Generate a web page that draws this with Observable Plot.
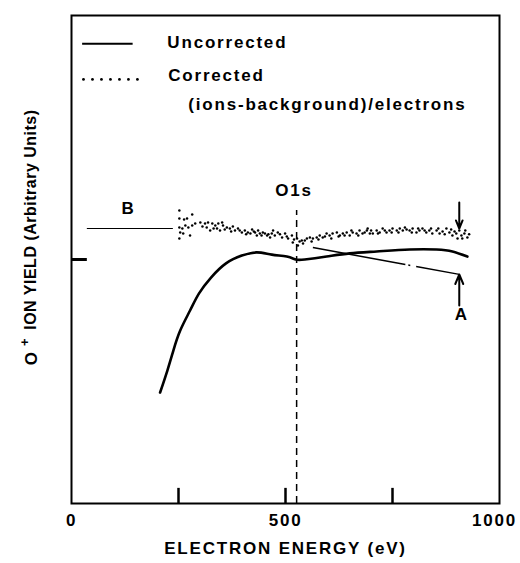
<!DOCTYPE html>
<html>
<head>
<meta charset="utf-8">
<script src="https://cdn.jsdelivr.net/npm/d3@7"></script>
<script src="https://cdn.jsdelivr.net/npm/@observablehq/plot@0.6"></script>
<style>
  html, body { margin: 0; padding: 0; background: #fff; }
  #chart svg { display: block; background: #fff; }
  #chart svg text { font-family: "Liberation Sans", Arial, Helvetica, sans-serif; font-weight: bold; letter-spacing: 1.8px; fill: #000; }
  #chart svg .ylab text, #chart svg text.ylab { letter-spacing: 0.5px; }
</style>
</head>
<body>
<div id="chart"></div>
<script>
// ---- Data (electron energy in eV, ion yield in arbitrary units) ----
const uncorrE = [207, 224, 238, 254, 277, 298, 326, 361, 398, 433, 468, 503, 524, 545, 596, 650, 713, 790, 853, 890, 925];
const uncorrY = [0.455, 0.545, 0.627, 0.709, 0.791, 0.861, 0.926, 0.984, 1.016, 1.029, 1.020, 1.012, 1.000, 1.000, 1.012, 1.025, 1.033, 1.041, 1.041, 1.033, 1.012];

const corrE = [252, 252, 263, 270, 282, 252, 259, 266, 273, 282, 289, 301, 254, 261, 277, 252,
  312, 319, 329, 336, 324, 343, 352, 354, 363, 347, 370, 377, 382, 389, 398, 405, 412, 422, 429, 436, 440, 447, 457, 464, 433, 340,
  306, 316, 332, 358, 373, 393, 408, 418, 426, 444, 452, 460,
  468, 475, 482, 492, 499, 506, 515, 517, 527, 529, 538, 541, 550, 557, 564, 573, 580, 587, 596, 603, 610, 620, 627, 634, 643, 650, 657, 666, 673, 680, 690, 697, 692,
  471, 487, 503, 520, 533, 545, 561, 577, 592, 607, 624, 638, 654, 670, 685, 700,
  704, 713, 720, 727, 736, 743, 750, 760, 767, 774, 783, 790, 797, 806, 813, 820, 829, 836, 843, 853, 860, 867, 876, 883, 890, 899, 906, 911, 918, 925, 913, 902,
  716, 732, 748, 764, 779, 795, 810, 825, 840, 857, 872, 887, 895, 920, 929];
const corrY = [1.201, 1.168, 1.164, 1.168, 1.184, 1.131, 1.127, 1.139, 1.131, 1.139, 1.148, 1.152, 1.111, 1.107, 1.098, 1.086,
  1.148, 1.152, 1.148, 1.139, 1.119, 1.148, 1.152, 1.139, 1.131, 1.119, 1.127, 1.135, 1.119, 1.127, 1.111, 1.119, 1.111, 1.123, 1.111, 1.119, 1.107, 1.111, 1.098, 1.090, 1.098, 1.127,
  1.135, 1.131, 1.127, 1.123, 1.115, 1.119, 1.103, 1.107, 1.115, 1.098, 1.107, 1.103,
  1.107, 1.098, 1.111, 1.090, 1.107, 1.086, 1.098, 1.070, 1.086, 1.057, 1.078, 1.066, 1.086, 1.090, 1.086, 1.090, 1.098, 1.090, 1.107, 1.098, 1.107, 1.111, 1.098, 1.107, 1.111, 1.098, 1.111, 1.107, 1.119, 1.107, 1.119, 1.107, 1.127,
  1.119, 1.103, 1.094, 1.082, 1.074, 1.078, 1.074, 1.082, 1.094, 1.086, 1.094, 1.098, 1.119, 1.098, 1.111, 1.119,
  1.107, 1.119, 1.111, 1.127, 1.111, 1.119, 1.127, 1.119, 1.127, 1.119, 1.123, 1.119, 1.127, 1.111, 1.119, 1.127, 1.111, 1.119, 1.107, 1.119, 1.107, 1.115, 1.127, 1.111, 1.098, 1.107, 1.119, 1.098, 1.107, 1.090, 1.086, 1.086,
  1.107, 1.119, 1.111, 1.111, 1.131, 1.111, 1.127, 1.119, 1.127, 1.127, 1.103, 1.123, 1.115, 1.119, 1.103];

// Background extrapolation line (A) and level B
const lineA = {x1: 564, y1: 1.049, x2: 906, y2: 0.939};
const lineB = {x1: 37, x2: 238, y: 1.127};
const o1sEnergy = 526;
const xTicks = [0, 500, 1000];
const innerTicks = [250, 500, 750];
const yTickValue = 1.0;

// Legend sample positions
const legendSolid = {x1: 26, x2: 144, y: 1.884};
const legendDotsE = [28, 49, 70, 91, 112, 133, 154];
const legendDotsY = 1.738;

const uncorr = uncorrE.map((e, i) => ({e, y: uncorrY[i]}));
const corr = corrE.map((e, i) => ({e, y: corrY[i]}));

const chart = Plot.plot({
  width: 520,
  height: 563,
  marginLeft: 71,
  marginRight: 21,
  marginTop: 15,
  marginBottom: 60,
  x: {domain: [0, 1000], axis: null},
  y: {domain: [0, 2], axis: null},
  marks: [
    Plot.frame({stroke: "black", strokeWidth: 2}),
    Plot.axisX(xTicks, {tickSize: 0, tickPadding: 10, fontSize: 17, label: null, tickFormat: d => String(d)}),
    Plot.ruleX(innerTicks, {y1: 0, y2: 0.062, stroke: "black", strokeWidth: 2.5}),
    Plot.ruleY([yTickValue], {x1: 0, x2: 37, stroke: "black", strokeWidth: 3}),
    // O1s dashed line
    Plot.ruleX([o1sEnergy], {y1: 0, y2: 1.201, stroke: "black", strokeWidth: 1.5, strokeDasharray: "7,5"}),
    // B level
    Plot.ruleY([lineB], {x1: "x1", x2: "x2", y: "y", stroke: "black", strokeWidth: 1.1}),
    // A extrapolation (dash-dot)
    Plot.link([lineA], {x1: "x1", y1: "y1", x2: "x2", y2: "y2", stroke: "black", strokeWidth: 1.5, strokeDasharray: "94,3,2,6,60"}),
    // Uncorrected curve
    Plot.line(uncorr, {x: "e", y: "y", curve: "natural", stroke: "black", strokeWidth: 2.6}),
    // Corrected dots
    Plot.dot(corr, {x: "e", y: "y", r: 1.25, fill: "black", stroke: "none"}),
    // Arrows
    Plot.arrow([{x1: 906, y1: 1.234, x2: 906, y2: 1.127}], {x1: "x1", y1: "y1", x2: "x2", y2: "y2", stroke: "black", strokeWidth: 2, headLength: 9, headAngle: 45}),
    Plot.arrow([{x1: 906, y1: 0.811, x2: 906, y2: 0.939}], {x1: "x1", y1: "y1", x2: "x2", y2: "y2", stroke: "black", strokeWidth: 2, headLength: 9, headAngle: 45}),
    // Labels
    Plot.text(["O1s"], {x: 520, y: 1.283, fontSize: 17}),
    Plot.text(["B"], {x: 133, y: 1.207, fontSize: 17}),
    Plot.text(["A"], {x: 912, y: 0.775, fontSize: 17}),
    // Legend
    Plot.ruleY([legendSolid], {x1: "x1", x2: "x2", y: "y", stroke: "black", strokeWidth: 2}),
    Plot.dot(legendDotsE, {x: d => d, y: legendDotsY, r: 1.4, fill: "black", stroke: "none"}),
    Plot.text(["Uncorrected"], {x: 224, y: 1.889, textAnchor: "start", fontSize: 17}),
    Plot.text(["Corrected"], {x: 226, y: 1.754, textAnchor: "start", fontSize: 17}),
    Plot.text(["(ions-background)/electrons"], {x: 273, y: 1.637, textAnchor: "start", fontSize: 17}),
    // Axis titles
    Plot.text(["ELECTRON ENERGY (eV)"], {x: 500, y: -0.184, fontSize: 17}),
    Plot.text(["O"], {x: -93, y: 0.595, rotate: -90, fontSize: 17, className: "ylab"}),
    Plot.text(["+"], {x: -110, y: 0.662, rotate: -90, fontSize: 13, className: "ylab"}),
    Plot.text(["ION YIELD (Arbitrary Units)"], {x: -96, y: 0.712, rotate: -90, textAnchor: "start", fontSize: 16, className: "ylab"})
  ]
});
// nudge the last tick label inward so it is not clipped by the page edge
chart.querySelectorAll("g[aria-label='x-axis tick label'] text").forEach(t => {
  if (t.textContent === "1000") t.setAttribute("dx", "-5");
});
document.getElementById("chart").appendChild(chart);
</script>
</body>
</html>
